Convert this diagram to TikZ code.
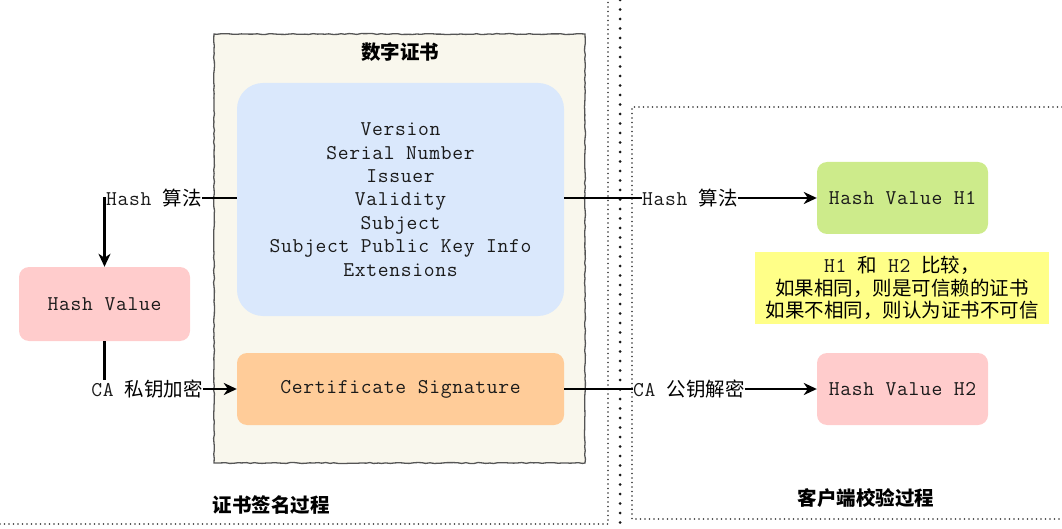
\documentclass[tikz,border=0pt]{standalone}
\usepackage{fontspec}
\setmainfont{Liberation Sans}
\setmonofont{Latin Modern Mono}[LetterSpace=3.3]
\newfontfamily\cjk{Noto Sans CJK SC}
\usetikzlibrary{arrows.meta,decorations.pathmorphing}
\definecolor{certfill}{HTML}{F9F7ED}
\definecolor{certdraw}{HTML}{555555}
\definecolor{bluefill}{HTML}{DAE8FC}
\definecolor{orangefill}{HTML}{FFCC99}
\definecolor{pinkfill}{HTML}{FFCCCC}
\definecolor{greenfill}{HTML}{CDEB8B}
\definecolor{yellowfill}{HTML}{FFFF88}
\definecolor{monotext}{HTML}{1A1A1A}
\newcommand\mtt[1]{{\ttfamily\fontsize{21}{23.4}\selectfont\color{monotext}#1}}
\begin{document}
\begin{tikzpicture}[x=1pt,y=-1pt,
  mono/.style={font=\fontsize{21}{23.4}\selectfont\ttfamily, text=monotext, align=center},
  boxnode/.style={mono, rounded corners=10pt, inner sep=0pt, minimum width=171pt, minimum height=72pt},
  lbl/.style={font=\cjk\fontsize{19.5}{23}\selectfont, inner sep=0pt},
  ttl/.style={font=\cjk\bfseries\fontsize{19.5}{23}\selectfont, inner sep=0pt},
  conn/.style={line width=2.2pt, black},
  arr/.style={conn, -{Stealth[length=13pt,width=12pt,inset=4pt]}},
  dotthin/.style={line width=1.6pt, dash pattern=on 0pt off 4.5pt, line cap=round, black!80},
  dotthick/.style={line width=3pt, dash pattern=on 0pt off 9.5pt, line cap=round, black!90},
  sketch/.style={draw=certdraw, line width=1.3pt, fill=certfill, decorate, decoration={random steps, segment length=4pt, amplitude=0.5pt}}
]
\useasboundingbox (0,0) rectangle (1062,529);

% region separators
\draw[dotthin] (0,524) -- (608,524) -- (608,0);
\draw[dotthick] (620,0) -- (620,529);
\draw[dotthin] (1062,107) -- (632,107) -- (632,519) -- (1062,519);

% certificate
\draw[sketch] (214,34) rectangle (585,463);
\node[ttl] (certtitle) at (400,52) {数字证书};
\node[mono, fill=bluefill, rounded corners=26pt, inner sep=0pt, minimum width=327pt, minimum height=233pt] (blue) at (400.5,199.5)
  {Version\\Serial Number\\Issuer\\Validity\\Subject\\Subject Public Key Info\\Extensions};
\node[boxnode, fill=orangefill, minimum width=327pt] (sig) at (400.5,389) {Certificate Signature};

% left side
\node[boxnode, fill=pinkfill, minimum height=74pt] (hv) at (104.5,304) {Hash Value};
\node[lbl, anchor=west] (la) at (106,198) {\mtt{Hash}\hspace{11pt}算法};
\node[lbl, anchor=east] (lb) at (203,389) {\mtt{CA}\hspace{11pt}私钥加密};
\draw[conn] (la -| blue.west) -- (la.east);
\draw[arr] (la.west) -| (hv.north);
\draw[conn] (hv.south) -- (hv.south |- lb.north);
\draw[arr] (lb.east) -- (sig.west);

% right side
\node[boxnode, fill=greenfill] (h1) at (902.5,198) {Hash Value H1};
\node[boxnode, fill=pinkfill] (h2) at (902.5,389) {Hash Value H2};
\node[lbl, anchor=west] (lc) at (642,198) {\mtt{Hash}\hspace{11pt}算法};
\node[lbl, anchor=west] (ld) at (633,389) {\mtt{CA}\hspace{11pt}公钥解密};
\draw[conn] (lc -| blue.east) -- (lc.west);
\draw[arr] (lc.east) -- (h1.west);
\draw[conn] (ld -| sig.east) -- (ld.west);
\draw[arr] (ld.east) -- (h2.west);

\node[lbl, fill=yellowfill, align=center, minimum width=294pt, minimum height=72pt, font=\cjk\fontsize{19.5}{22.5}\selectfont] (note) at (902,288)
  {\mtt{H1}\hspace{11pt}和\hspace{11pt}\mtt{H2}\hspace{11pt}比较，\\如果相同，则是可信赖的证书\\如果不相同，则认为证书不可信};

% captions
\node[ttl] (cap1) at (271,505) {证书签名过程};
\node[ttl] (cap2) at (866,498) {客户端校验过程};
\end{tikzpicture}
\end{document}
